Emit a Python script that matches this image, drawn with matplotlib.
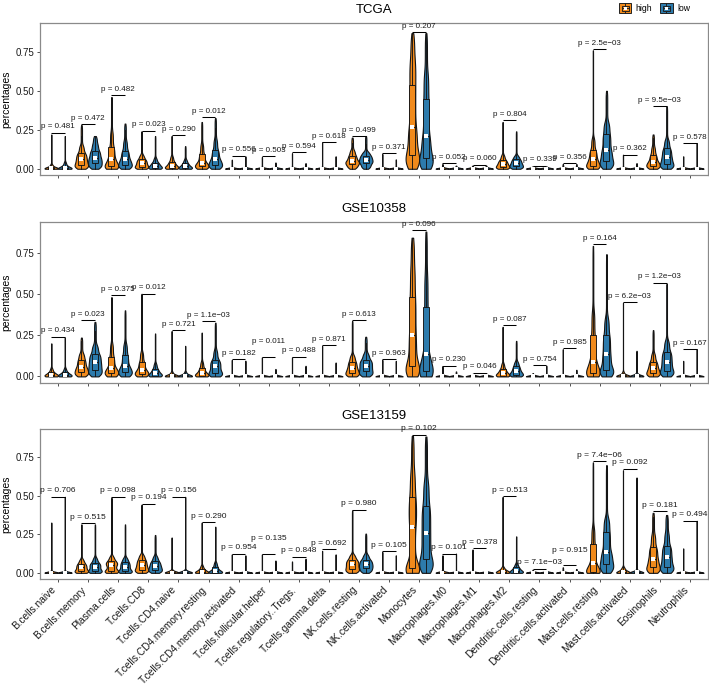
import math
import numpy as np
import matplotlib
matplotlib.use("Agg")
import matplotlib.pyplot as plt
from matplotlib.legend_handler import HandlerBase
from matplotlib.patches import Rectangle, Patch
from matplotlib.lines import Line2D

plt.rcParams['font.family'] = ['Liberation Sans', 'DejaVu Sans']

cell_types = ["B.cells.naive", "B.cells.memory", "Plasma.cells", "T.cells.CD8",
              "T.cells.CD4.naive", "T.cells.CD4.memory.resting",
              "T.cells.CD4.memory.activated", "T.cells.follicular.helper",
              "T.cells.regulatory..Tregs.", "T.cells.gamma.delta", "NK.cells.resting",
              "NK.cells.activated", "Monocytes", "Macrophages.M0", "Macrophages.M1",
              "Macrophages.M2", "Dendritic.cells.resting", "Dendritic.cells.activated",
              "Mast.cells.resting", "Mast.cells.activated", "Eosinophils", "Neutrophils"]
datasets = ["TCGA", "GSE10358", "GSE13159"]
groups = ["high", "low"]
group_colors = ["#F08A1C", "#2D7BAC"]

# per violin summary: (q1, median, q3, p90, max); minimum is 0
tcga_high = [(0.0, 0.003, 0.012, 0.03, 0.22), (0.025, 0.06, 0.10, 0.15, 0.28),
             (0.015, 0.06, 0.14, 0.24, 0.46), (0.012, 0.035, 0.06, 0.09, 0.24),
             (0.005, 0.02, 0.045, 0.08, 0.21), (0.015, 0.04, 0.095, 0.16, 0.30),
             (0, 0, 0, 0.004, 0.058), (0, 0, 0, 0.004, 0.075), (0, 0, 0, 0.004, 0.10),
             (0, 0, 0, 0.004, 0.17), (0.03, 0.05, 0.085, 0.12, 0.20),
             (0, 0, 0, 0.004, 0.095), (0.09, 0.265, 0.54, 0.70, 0.87),
             (0, 0, 0, 0.003, 0.03), (0, 0, 0, 0.003, 0.02),
             (0.01, 0.03, 0.055, 0.09, 0.30), (0, 0, 0, 0.002, 0.015),
             (0, 0, 0, 0.003, 0.03), (0.02, 0.06, 0.12, 0.20, 0.76),
             (0, 0, 0, 0.004, 0.09), (0.02, 0.045, 0.09, 0.14, 0.22),
             (0, 0, 0, 0.004, 0.08)]
tcga_low = [(0.0, 0.005, 0.02, 0.045, 0.21), (0.035, 0.07, 0.115, 0.16, 0.21),
            (0.025, 0.06, 0.115, 0.18, 0.29), (0.005, 0.02, 0.04, 0.07, 0.21),
            (0.003, 0.015, 0.035, 0.06, 0.145), (0.025, 0.06, 0.12, 0.19, 0.325),
            (0, 0, 0, 0.004, 0.08), (0, 0, 0, 0.003, 0.04), (0, 0, 0, 0.003, 0.036),
            (0, 0, 0, 0.004, 0.08), (0.035, 0.058, 0.085, 0.11, 0.21),
            (0, 0, 0, 0.003, 0.06), (0.068, 0.21, 0.45, 0.62, 0.87),
            (0, 0, 0, 0.003, 0.02), (0, 0, 0, 0.003, 0.02),
            (0.015, 0.035, 0.06, 0.085, 0.24), (0, 0, 0, 0.002, 0.015),
            (0, 0, 0, 0.003, 0.03), (0.05, 0.12, 0.22, 0.30, 0.50),
            (0, 0, 0, 0.003, 0.036), (0.03, 0.075, 0.13, 0.19, 0.40),
            (0, 0, 0, 0.004, 0.165)]
tcga_p = ["0.481", "0.472", "0.482", "0.023", "0.290", "0.012", "0.556", "0.503",
          "0.594", "0.618", "0.499", "0.371", "0.207", "0.052", "0.060", "0.804",
          "0.339", "0.356", "2.5e\u221203", "0.362", "9.5e\u221203", "0.578"]
tcga_bracket = [0.23, 0.286, 0.47, 0.245, 0.214, 0.33, 0.083, 0.079, 0.105, 0.17,
                0.21, 0.10, 0.876, 0.036, 0.026, 0.31, 0.02, 0.036, 0.767, 0.09,
                0.40, 0.165]
tcga_label_lift = [0] * 22

gse10358_high = [(0.002, 0.01, 0.025, 0.05, 0.20), (0.025, 0.055, 0.10, 0.14, 0.235),
                 (0.02, 0.05, 0.12, 0.20, 0.48), (0.015, 0.04, 0.09, 0.15, 0.50),
                 (0, 0.003, 0.01, 0.03, 0.275), (0.005, 0.02, 0.05, 0.09, 0.265),
                 (0, 0, 0, 0.004, 0.10), (0, 0, 0, 0.004, 0.115),
                 (0, 0, 0, 0.004, 0.115), (0, 0, 0, 0.004, 0.185),
                 (0.02, 0.05, 0.09, 0.13, 0.335), (0, 0, 0, 0.004, 0.10),
                 (0.06, 0.25, 0.48, 0.66, 0.84), (0, 0, 0, 0.003, 0.06),
                 (0, 0, 0, 0.002, 0.015), (0.005, 0.02, 0.045, 0.08, 0.30),
                 (0, 0, 0, 0.002, 0.02), (0, 0, 0, 0.004, 0.165),
                 (0.02, 0.09, 0.25, 0.40, 0.79), (0, 0.002, 0.008, 0.03, 0.446),
                 (0.02, 0.05, 0.09, 0.14, 0.28), (0, 0, 0, 0.003, 0.094)]
gse10358_low = [(0.002, 0.01, 0.025, 0.05, 0.235), (0.04, 0.085, 0.135, 0.19, 0.33),
                (0.025, 0.06, 0.13, 0.20, 0.40), (0.005, 0.02, 0.045, 0.08, 0.26),
                (0, 0.003, 0.01, 0.03, 0.185), (0.02, 0.06, 0.10, 0.16, 0.325),
                (0, 0, 0, 0.004, 0.095), (0, 0, 0, 0.003, 0.045),
                (0, 0, 0, 0.003, 0.064), (0, 0, 0, 0.003, 0.084),
                (0.03, 0.065, 0.10, 0.14, 0.24), (0, 0, 0, 0.004, 0.094),
                (0.03, 0.135, 0.42, 0.62, 0.877), (0, 0, 0, 0.002, 0.03),
                (0, 0, 0, 0.002, 0.02), (0.01, 0.03, 0.06, 0.09, 0.215),
                (0, 0, 0, 0.003, 0.065), (0, 0, 0, 0.003, 0.04),
                (0.04, 0.135, 0.25, 0.36, 0.74), (0, 0.002, 0.006, 0.02, 0.155),
                (0.035, 0.09, 0.15, 0.22, 0.56), (0, 0, 0, 0.004, 0.165)]
gse10358_p = ["0.434", "0.023", "0.375", "0.012", "0.721", "1.1e\u221203", "0.182",
              "0.011", "0.488", "0.871", "0.613", "0.963", "0.096", "0.230", "0.046",
              "0.087", "0.754", "0.985", "0.164", "6.2e\u221203", "1.2e\u221203", "0.167"]
gse10358_bracket = [0.239, 0.34, 0.49, 0.50, 0.28, 0.335, 0.104, 0.118, 0.118, 0.19,
                    0.34, 0.104, 0.884, 0.064, 0.022, 0.31, 0.068, 0.17, 0.80, 0.45,
                    0.566, 0.165]
gse10358_label_lift = [0, 0, 0, 0, 0, 0, 0, 0.055, 0, 0, 0, 0, 0, 0, 0, 0, 0, 0, 0, 0,
                       0, 0]

gse13159_high = [(0, 0, 0.002, 0.01, 0.327), (0.01, 0.035, 0.06, 0.09, 0.315),
                 (0.012, 0.05, 0.075, 0.11, 0.488), (0.02, 0.05, 0.085, 0.12, 0.443),
                 (0, 0.002, 0.008, 0.02, 0.23), (0, 0.008, 0.025, 0.05, 0.327),
                 (0, 0, 0, 0.004, 0.12), (0, 0, 0, 0.004, 0.12),
                 (0, 0, 0, 0.004, 0.074), (0, 0, 0, 0.004, 0.143),
                 (0.025, 0.055, 0.085, 0.12, 0.405), (0, 0, 0, 0.004, 0.136),
                 (0.03, 0.30, 0.49, 0.66, 0.89), (0, 0, 0.002, 0.01, 0.114),
                 (0, 0, 0, 0.004, 0.152), (0, 0.008, 0.02, 0.04, 0.494),
                 (0, 0, 0, 0.002, 0.02), (0, 0, 0, 0.003, 0.036),
                 (0.005, 0.063, 0.188, 0.30, 0.718), (0, 0.005, 0.02, 0.04, 0.667),
                 (0.036, 0.092, 0.166, 0.25, 0.39), (0, 0, 0, 0.004, 0.159)]
gse13159_low = [(0, 0, 0.002, 0.01, 0.494), (0.012, 0.04, 0.065, 0.10, 0.315),
                (0.01, 0.04, 0.07, 0.10, 0.315), (0.02, 0.045, 0.075, 0.11, 0.246),
                (0, 0.002, 0.008, 0.02, 0.494), (0.002, 0.012, 0.04, 0.07, 0.30),
                (0, 0, 0, 0.004, 0.114), (0, 0, 0, 0.004, 0.08),
                (0, 0, 0, 0.004, 0.092), (0, 0, 0, 0.004, 0.12),
                (0.03, 0.056, 0.085, 0.12, 0.255), (0, 0, 0, 0.004, 0.114),
                (0.09, 0.26, 0.434, 0.60, 0.886), (0, 0, 0, 0.004, 0.125),
                (0, 0, 0, 0.002, 0.01), (0.003, 0.015, 0.035, 0.06, 0.237),
                (0, 0, 0, 0.002, 0.01), (0, 0, 0, 0.002, 0.025),
                (0.058, 0.136, 0.264, 0.36, 0.70), (0, 0.003, 0.008, 0.02, 0.62),
                (0.04, 0.103, 0.175, 0.26, 0.376), (0, 0, 0, 0.004, 0.338)]
gse13159_p = ["0.706", "0.515", "0.098", "0.194", "0.156", "0.290", "0.954", "0.135",
              "0.848", "0.692", "0.980", "0.105", "0.102", "0.101", "0.378", "0.513",
              "7.1e\u221203", "0.915", "7.4e\u221206", "0.092", "0.181", "0.494"]
gse13159_bracket = [0.494, 0.322, 0.494, 0.45, 0.494, 0.33, 0.125, 0.125, 0.103, 0.154,
                    0.41, 0.141, 0.897, 0.125, 0.159, 0.499, 0.025, 0.054, 0.725, 0.678,
                    0.40, 0.338]
gse13159_label_lift = [0, 0, 0, 0, 0, 0, 0, 0.06, 0, 0, 0, 0, 0, 0, 0, 0, 0, 0.05, 0, 0,
                       0, 0]

panels = [(datasets[0], tcga_high, tcga_low, tcga_p, tcga_bracket, tcga_label_lift),
          (datasets[1], gse10358_high, gse10358_low, gse10358_p, gse10358_bracket,
           gse10358_label_lift),
          (datasets[2], gse13159_high, gse13159_low, gse13159_p, gse13159_bracket,
           gse13159_label_lift)]

PROBS = np.array([0.0, 0.25, 0.5, 0.75, 0.9, 1.0])
_erf = np.vectorize(math.erf)


def _Phi(z):
    return 0.5 * (1.0 + _erf(z / math.sqrt(2.0)))


def violin_stats(s):
    q1, med, q3, p90, mx = s
    q = np.array([0.0, q1, med, q3, p90, mx])
    h = 0.005 + 0.07 * (p90 - q1)
    y = np.linspace(0.0, mx, 400)
    d = np.zeros_like(y)
    for i in range(5):
        m = PROBS[i + 1] - PROBS[i]
        a, b = q[i], q[i + 1]
        if b - a < 1e-9:
            d += m * np.exp(-0.5 * ((y - a) / h) ** 2) / (h * math.sqrt(2 * math.pi))
        else:
            d += m * (_Phi((y - a) / h) - _Phi((y - b) / h)) / (b - a)
    return dict(coords=y, vals=d, mean=med, median=med, min=0.0, max=mx)


def box_stats(s):
    q1, med, q3, p90, mx = s
    iqr = q3 - q1
    return dict(med=med, q1=q1, q3=q3, whislo=max(0.0, q1 - 1.5 * iqr),
                whishi=min(mx, q3 + 1.5 * iqr), fliers=[])


class BoxKeyHandler(HandlerBase):
    def create_artists(self, legend, orig_handle, xdescent, ydescent, width, height,
                       fontsize, trans):
        col = orig_handle.get_facecolor()
        x0, y0 = -xdescent, -ydescent
        arts = [Rectangle((x0, y0), width, height, facecolor=col, edgecolor='#222222',
                          lw=0.7, transform=trans),
                Line2D([x0 + width / 2] * 2, [y0, y0 + height], color='#222222', lw=0.7,
                       transform=trans),
                Rectangle((x0 + width * 0.2, y0 + height * 0.22), width * 0.6,
                          height * 0.56, facecolor=col, edgecolor='#222222', lw=0.7,
                          transform=trans),
                Line2D([x0 + width * 0.2, x0 + width * 0.8], [y0 + height * 0.5] * 2,
                       color='#222222', lw=0.7, transform=trans),
                Rectangle((x0 + width * 0.38, y0 + height * 0.36), width * 0.24,
                          height * 0.28, facecolor='white', edgecolor='none',
                          transform=trans)]
        return arts


W, H = 709, 691
fig = plt.figure(figsize=(W / 100, H / 100), dpi=100)
panel_px = [(23, 175), (222, 383), (429, 579)]
x = np.arange(1, len(cell_types) + 1)
offs = [-0.225, 0.225]

for k, (name, hi, lo, pv, br, lift) in enumerate(panels):
    top, bot = panel_px[k]
    ax = fig.add_axes([40 / W, 1 - bot / H, 668 / W, (bot - top) / H])
    for g, data in enumerate([hi, lo]):
        pos = x + offs[g]
        parts = ax.violin([violin_stats(s) for s in data], positions=pos, widths=0.45,
                          showextrema=False)
        for b in parts['bodies']:
            b.set_facecolor(group_colors[g])
            b.set_edgecolor('#141414')
            b.set_linewidth(0.8)
            b.set_alpha(1)
            b.set_zorder(2)
        ax.bxp([box_stats(s) for s in data], positions=pos, widths=0.2,
               patch_artist=True, showcaps=False, showfliers=False, manage_ticks=False,
               boxprops=dict(facecolor=group_colors[g], edgecolor='#141414', lw=0.65),
               whiskerprops=dict(color='#141414', lw=0.65),
               medianprops=dict(color='#141414', lw=0.65), zorder=3)
        ax.scatter(pos, [s[1] for s in data], marker='s', s=8, c='white',
                   linewidths=0, zorder=4)
    fs = 6.0 if k == 2 else 5.8
    for i, (lab, yb) in enumerate(zip(pv, br)):
        ax.plot([x[i] + offs[0], x[i] + offs[1]], [yb, yb], color='black', lw=0.75,
                zorder=5, solid_capstyle='butt')
        ax.annotate("p = " + lab, (x[i], yb + lift[i]), xytext=(0, 1.8),
                    textcoords='offset points', ha='center', va='bottom', fontsize=fs,
                    color='#1a1a1a', annotation_clip=False, zorder=6)
    ax.set_xlim(0.4, len(cell_types) + 0.6)
    ax.set_ylim(-0.04, 0.935)
    ax.set_yticks([0, 0.25, 0.5, 0.75])
    ax.set_yticklabels(['0.00', '0.25', '0.50', '0.75'])
    ax.set_xticks(x)
    if k == 2:
        ax.set_xticklabels(cell_types, rotation=45, ha='right', va='top',
                           fontsize=7.3)
    else:
        ax.set_xticklabels([])
    ax.tick_params(axis='y', labelsize=7.0)
    ax.tick_params(axis='both', length=2.5, width=0.6, color='#333333',
                   pad=1.5, labelcolor='#1a1a1a')
    ax.set_ylabel('percentages', fontsize=7.5, labelpad=3)
    for sp in ax.spines.values():
        sp.set_color('#8a8a8a')
        sp.set_linewidth(0.9)
    ax.set_title(name, fontsize=9.5, pad=7)

handles = [Patch(facecolor=group_colors[0]), Patch(facecolor=group_colors[1])]
fig.legend(handles, groups, loc='upper right', bbox_to_anchor=(696 / W, 1.004), ncol=2,
           frameon=False, fontsize=6.2, handlelength=1.45, handleheight=1.45,
           columnspacing=0.9, handletextpad=0.5, borderpad=0.2,
           handler_map={Patch: BoxKeyHandler()})

fig.savefig('out.png', dpi=100)
